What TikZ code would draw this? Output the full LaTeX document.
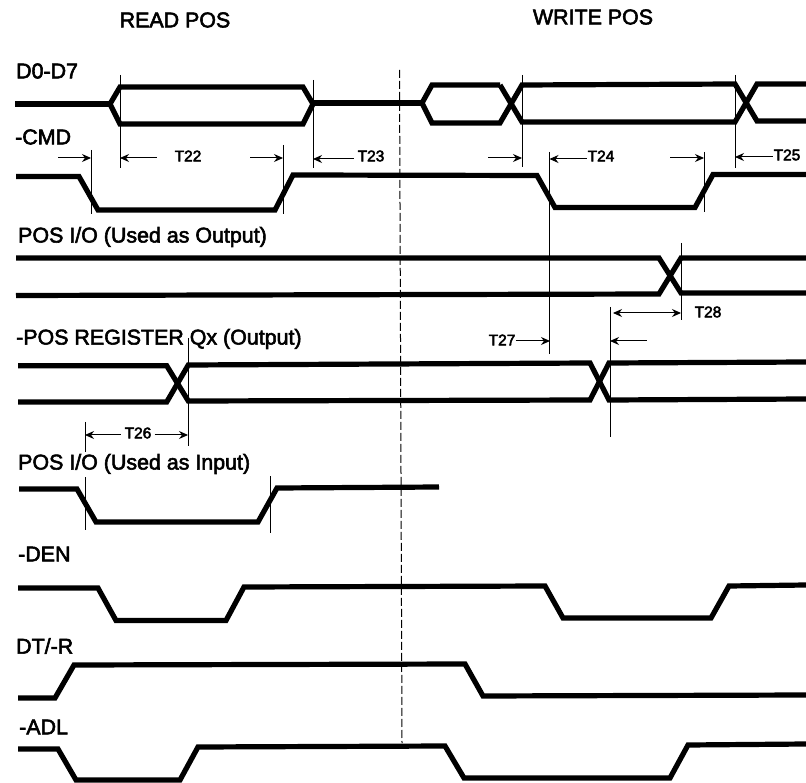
\documentclass[tikz,border=0pt]{standalone}
\usepackage{fontspec}
\setmainfont{Liberation Sans}
\newfontfamily\siglabelfont[FakeBold=2.6]{Liberation Sans}
\newfontfamily\tlabelfont[FakeBold=3.2]{Liberation Sans}
\usetikzlibrary{arrows.meta}
\begin{document}
\begin{tikzpicture}[x=1pt,y=-1pt,
  >={Stealth[length=9pt,width=8pt]},
  wave/.style={line width=5.2pt,line join=miter},
  guide/.style={line width=1pt},
  timing/.style={line width=1pt},
  siglabel/.style={anchor=west,inner sep=0pt,font=\siglabelfont\fontsize{21.4}{23}\selectfont},
  tlabel/.style={inner sep=3pt,font=\tlabelfont\fontsize{15.5}{17}\selectfont}]
\useasboundingbox (0,0) rectangle (806,783);
% headings
\node [siglabel,anchor=center] (readpos) at (175,20) {READ POS};
\node [siglabel,anchor=center] (writepos) at (593,17) {WRITE POS};
% signal names
\node [siglabel] (d0d7) at (16,71) {D0-D7};
\node [siglabel] (cmd) at (15,137) {-CMD};
\node [siglabel] (posout) at (18,237) {POS I/O (Used as Output)};
\node [siglabel] (posreg) at (16,339) {-POS REGISTER Qx (Output)};
\node [siglabel] (posin) at (18,464) {POS I/O (Used as Input)};
\node [siglabel] (den) at (18,554) {-DEN};
\node [siglabel] (dtr) at (16,646) {DT/-R};
\node [siglabel] (adl) at (19,727) {-ADL};
% read/write divider
\draw [guide,dash pattern=on 8pt off 3pt] (399.5,70) -- (402,743);
% D0-D7
\draw [wave] (15,104) -- (110,104);
\draw [wave] (120,87) -- (303,87) -- (313,104) -- (303,124) -- (120,124) -- (110,104) -- cycle;
\draw [wave] (313,103) -- (422,103);
\draw [wave] (500,85) -- (432,85) -- (422,103) -- (432,123) -- (500,123) -- (522,85) -- (735,84) -- (757,121) -- (806,121);
\draw [wave] (500,85) -- (522,122) -- (735,122) -- (757,84) -- (806,84);
% -CMD
\draw [wave] (16,176.5) -- (79,176.5) -- (98,210) -- (275,210) -- (293,175) -- (537,175.5) -- (555,207.5) -- (695,207.5) -- (713,174.5) -- (806,174.5);
% POS I/O output
\draw [wave] (16,258) -- (659,258) -- (681,293) -- (806,293);
\draw [wave] (16,295.5) -- (659,294) -- (681,258) -- (806,258);
% -POS REGISTER
\draw [wave] (18,365.7) -- (166.7,365.7) -- (188.3,401) -- (590,400) -- (609,363) -- (806,362);
\draw [wave] (18,402) -- (166.7,402) -- (188.3,365) -- (590,363) -- (609,400) -- (806,399);
% POS I/O input
\draw [wave] (19,489) -- (77,489) -- (96,522) -- (258,522) -- (277,488) -- (439,487);
% -DEN
\draw [wave] (18,588) -- (98,588) -- (116,620.5) -- (226,620.5) -- (244,587) -- (545,586) -- (563,618) -- (711,618) -- (729,586) -- (806,585);
% DT/-R
\draw [wave] (18,698) -- (55,698) -- (74,665) -- (465,664) -- (483,696) -- (806,695);
% -ADL
\draw [wave] (18,749) -- (58,749) -- (76,780) -- (180,780) -- (198,747) -- (445,746) -- (464,778) -- (670,778) -- (688,745) -- (806,744);
% guide lines
\foreach \gx/\gtop/\gbot in {120/75/168,313/80/168,91/150/214,283.5/145/214,522/75/167,735/75/168,549.5/152/354,704.5/152/212,681/243/320,610/307/437,188/338/446,85/422/452,85/477/530,270/476/533}
  \draw [guide] (\gx,\gtop) -- (\gx,\gbot);
% timing arrows
\node [tlabel] (t22) at (188,156) {T22};
\node [tlabel] (t23) at (371,156) {T23};
\node [tlabel,inner sep=0pt] (t24) at (601,156) {T24};
\node [tlabel,inner sep=0pt] (t25) at (787,155) {T25};
\node [tlabel] (t26) at (138,433) {T26};
\node [tlabel,inner sep=0pt] (t27) at (502,340) {T27};
\node [tlabel] (t28) at (708,312) {T28};
\draw [timing,->] (58,158) -- (91,158);
\draw [timing,<-] (120,158) -- (157,158);
\draw [timing,->] (250,158) -- (283,158);
\draw [timing,<-] (313,159) -- (t23.west |- 313,159);
\draw [timing,->] (488,158) -- (522,158);
\draw [timing,<-] (549.5,159) -- (t24.west |- 549.5,159);
\draw [timing,->] (670,158) -- (704,158);
\draw [timing,<-] (735,157) -- (t25.west |- 735,157);
\draw [timing,<-] (85,435) -- (t26.west |- 85,435);
\draw [timing,->] (t26.east |- 188,435) -- (188,435);
\draw [timing,->] (t27.east |- 550,341) -- (550,341);
\draw [timing,<-] (610,341) -- (647,341);
\draw [timing,<->] (613,313) -- (681,313);
\end{tikzpicture}
\end{document}
